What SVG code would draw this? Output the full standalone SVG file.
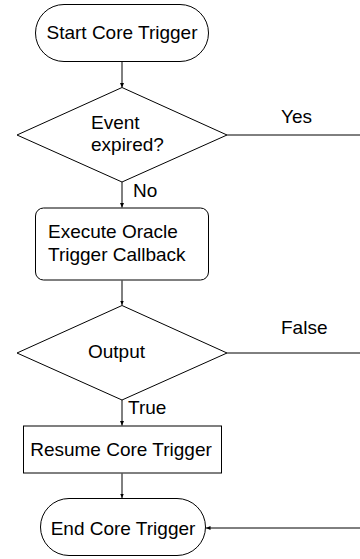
<svg xmlns="http://www.w3.org/2000/svg" width="360" height="559" viewBox="0 0 360 559">
<style>
.s{fill:#fff;stroke:#000;stroke-width:1}
.t{font-family:"Liberation Sans",Arial,sans-serif;font-size:19px;fill:#000}
.c{text-anchor:middle}
.e{fill:none;stroke:#000;stroke-width:1}
</style>
<defs>
<marker id="a" markerWidth="5" markerHeight="5" refX="4.5" refY="2.5" orient="auto" markerUnits="userSpaceOnUse">
<path d="M0,0.5 L4.5,2.5 L0,4.5 Z" fill="#000"/>
</marker>
</defs>
<rect width="360" height="559" fill="#fff"/>
<g id="connectors">
<line class="e" x1="122" y1="61.5" x2="122" y2="87.5" marker-end="url(#a)"/>
<line class="e" x1="227" y1="135" x2="360" y2="135"/>
<line class="e" x1="122" y1="182" x2="122" y2="207.5" marker-end="url(#a)"/>
<line class="e" x1="122" y1="280.5" x2="122" y2="305" marker-end="url(#a)"/>
<line class="e" x1="227" y1="353" x2="360" y2="353"/>
<line class="e" x1="122" y1="400" x2="122" y2="425.5" marker-end="url(#a)"/>
<line class="e" x1="122" y1="473.5" x2="122" y2="498" marker-end="url(#a)"/>
<line class="e" x1="360" y1="528" x2="206" y2="528" marker-end="url(#a)"/>
<text class="t" x="281" y="123">Yes</text>
<text class="t" x="133" y="197">No</text>
<text class="t" x="281" y="334">False</text>
<text class="t" x="128" y="414">True</text>
</g>
<g id="start">
<rect class="s" x="35.5" y="4.5" width="173" height="57" rx="28.5"/>
<text class="t c" x="122" y="39">Start Core Trigger</text>
</g>
<g id="expired">
<path class="s" d="M122,87.5 L227,135 L122,182 L17,135 Z"/>
<text class="t" x="91" y="129">Event</text>
<text class="t" x="91" y="151">expired?</text>
</g>
<g id="execute">
<rect class="s" x="35.5" y="208" width="173" height="72" rx="8"/>
<text class="t" x="48" y="238">Execute Oracle</text>
<text class="t" x="48" y="261">Trigger Callback</text>
</g>
<g id="output">
<path class="s" d="M122,305.5 L227,353 L122,400 L17,353 Z"/>
<text class="t" x="88" y="358">Output</text>
</g>
<g id="resume">
<rect class="s" x="23.5" y="426" width="198" height="47"/>
<text class="t c" x="121" y="456">Resume Core Trigger</text>
</g>
<g id="end">
<rect class="s" x="40.5" y="498.5" width="165" height="57" rx="28.5"/>
<text class="t c" x="123" y="535">End Core Trigger</text>
</g>
</svg>
